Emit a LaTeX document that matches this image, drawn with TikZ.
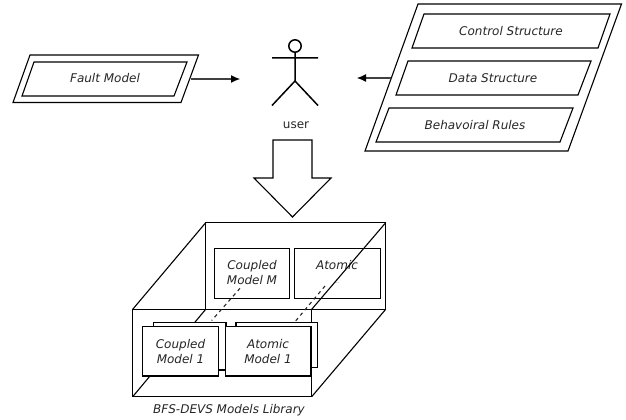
\documentclass[tikz,border=0pt]{standalone}
\usepackage{fontspec}
\setmainfont{DejaVu Sans}
\usetikzlibrary{arrows.meta}
\tikzset{
  x=1pt,y=-1pt,
  ln/.style={draw=black,line width=1.1pt,line join=miter},
  box/.style={ln,fill=white},
  lbl/.style={font=\fontsize{12}{14}\selectfont\itshape,align=center,inner sep=0pt,text=black!85},
  conn/.style={draw=black!75,line width=1.1pt,-{Latex[length=9pt,width=8pt,black]}},
  limb/.style={draw=black,line width=1.5pt},
  dsh/.style={draw=black!85,line width=1.1pt,dash pattern=on 3.5pt off 3.5pt}
}
\begin{document}
\begin{tikzpicture}
\useasboundingbox (0,0) rectangle (626,420);
% Fault model
\draw[ln] (30,55)--(198.5,55)--(181,102.5)--(13,102.5)--cycle;
\draw[ln] (34,62)--(187,62)--(174,96)--(22,96)--cycle;
\node[lbl] (fault) at (105,78.5) {Fault Model};
\coordinate (faultout) at (191,79);
\coordinate (userleft) at (240,79);
\draw[conn] (faultout) -- (userleft);
% Actor
\draw[limb] (295,46) circle (6.2);
\coordinate (neck) at (295,52.5);
\coordinate (hip) at (295,81);
\coordinate (armL) at (272,58);
\coordinate (armR) at (318,58);
\coordinate (legL) at (272,105.5);
\coordinate (legR) at (318,105.5);
\draw[limb] (neck)--(hip) (armL)--(armR) (legL)--(hip)--(legR);
\node[inner sep=0pt,font=\fontsize{12}{14}\selectfont,text=black!85] (user) at (296,125) {user};
% Structures
\draw[ln] (418,4)--(621.5,4)--(568,151)--(365,151)--cycle;
\draw[ln] (424,14)--(610,14)--(598,48)--(412,48)--cycle;
\draw[ln] (408,61)--(591,61)--(578,95)--(396,95)--cycle;
\draw[ln] (389,108)--(573,108)--(560,142)--(376,142)--cycle;
\node[lbl] (control) at (511,31) {Control Structure};
\node[lbl] (data) at (493,78) {Data Structure};
\node[lbl] (rules) at (475,125) {Behavoiral Rules};
\coordinate (structout) at (391,78);
\coordinate (userright) at (357,78);
\draw[conn] (structout) -- (userright);
% Block arrow
\draw[ln] (273,140)--(312,140)--(312,178)--(331,178)--(292.5,217)--(254,178)--(273,178)--cycle;
% Cube
\draw[ln] (205.7,222.7) rectangle (385.7,309.3);
\draw[ln] (132.7,309.3)--(205.7,222.7);
\draw[ln] (132.7,396.7)--(205.7,309.3);
\draw[ln] (311.7,396.7)--(385.7,309.3);
\draw[ln] (132.7,309.3) rectangle (311.7,396.7);
% Back boxes
\draw[box] (214.3,248.3) rectangle (289.7,298.3);
\draw[box] (294.7,248.3) rectangle (380.7,298.3);
\node[lbl] (cm) at (252,273) {Coupled\\[1pt]Model M};
\node[lbl] (am) at (337,265.5) {Atomic};
\node[inner sep=0pt,font=\fontsize{5}{6}\selectfont,text=black!50] (dots) at (337,283) {...};
\draw[dsh] (240,288.3)--(211.7,320.5);
\draw[dsh] (325,286)--(295,321.7);
\draw[box] (153.3,322.7) rectangle (226,370);
\draw[box] (236,322.7) rectangle (317.7,367.7);
\draw[box] (142.7,326.7) rectangle (218.3,376);
\draw[box] (225.7,326.7) rectangle (311,376);
\node[lbl] (c1) at (180.5,351.5) {Coupled\\[1pt]Model 1};
\node[lbl] (a1) at (268,351.5) {Atomic\\[1pt]Model 1};
\draw[ln] (311.7,309.3)--(385.7,222.7);
\node[lbl] (lib) at (229,410) {BFS-DEVS Models Library};
\end{tikzpicture}
\end{document}
